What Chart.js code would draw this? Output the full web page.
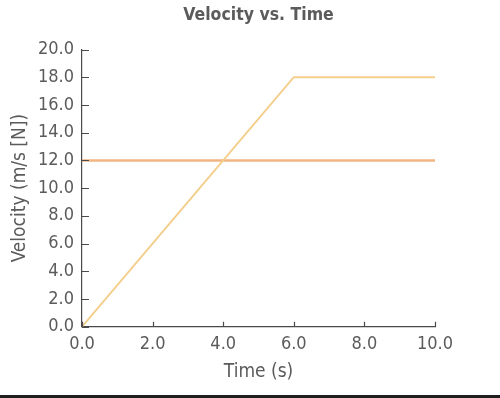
<!DOCTYPE html>
<html>
<head>
<meta charset="utf-8">
<script src="https://cdn.jsdelivr.net/npm/chart.js@4"></script>
<style>
  html, body { margin: 0; padding: 0; background: #fff; }
  #wrap { width: 500px; height: 395px; position: relative; }
  #bar { width: 500px; height: 3px; background: #1e1e1e; }
</style>
</head>
<body>
<div id="wrap"><canvas id="velChart" width="500" height="395"></canvas></div>
<div id="bar"></div>
<script>
// data
const times = [0, 6, 10];
const rampVelocity = [0, 18, 18];
const constTimes = [0, 10];
const constVelocity = [12, 12];
const xTicks = [0, 2, 4, 6, 8, 10];
const yTicks = [0, 2, 4, 6, 8, 10, 12, 14, 16, 18, 20];

const FONT = '"DejaVu Sans Condensed", "Liberation Sans Narrow", sans-serif';
const TEXT = '#5b5b5b';
const AXIS = '#4a4a4a';

// inward tick marks (y ticks point right, x ticks point up)
const innerTicks = {
  id: 'innerTicks',
  afterDraw(chart) {
    const ctx = chart.ctx;
    const x = chart.scales.x, y = chart.scales.y;
    ctx.save();
    ctx.strokeStyle = AXIS;
    ctx.lineWidth = 1.2;
    ctx.beginPath();
    yTicks.forEach(v => {
      let py = Math.round(y.getPixelForValue(v)) + 0.5;
      ctx.moveTo(x.left, py);
      ctx.lineTo(x.left + 7, py);
    });
    xTicks.forEach(v => {
      let px = Math.round(x.getPixelForValue(v)) + 0.5;
      ctx.moveTo(px, y.bottom);
      ctx.lineTo(px, y.bottom - 5);
    });
    ctx.stroke();
    ctx.restore();
  }
};

let ctx = document.getElementById('velChart').getContext('2d');

new Chart(ctx, {
  type: 'line',
  data: {
    datasets: [{
      label: 'ramp',
      data: times.map((t, i) => ({x: t, y: rampVelocity[i]})),
      borderColor: '#f4cf8c',
      borderWidth: 2,
      pointRadius: 0,
      tension: 0
    }, {
      label: 'constant',
      data: constTimes.map((t, i) => ({x: t, y: constVelocity[i]})),
      borderColor: '#f0b582',
      borderWidth: 2.5,
      pointRadius: 0,
      tension: 0
    }]
  },
  options: {
    responsive: false,
    animation: false,
    layout: { padding: { left: 0, right: 65, top: 0, bottom: 0 } },
    plugins: {
      legend: { display: false },
      tooltip: { enabled: false },
      title: {
        display: true,
        fullSize: false,
        text: 'Velocity vs. Time',
        color: TEXT,
        font: { family: FONT, size: 17.5, weight: 'bold' },
        padding: { top: 5, bottom: 23.5 }
      }
    },
    scales: {
      x: {
        type: 'linear',
        min: 0,
        max: 10,
        afterBuildTicks: s => { s.ticks = xTicks.map(v => ({value: v})); },
        afterFit: s => { s.height = 68.3; },
        grid: { display: false, drawTicks: false },
        border: { display: true, color: AXIS, width: 1.2 },
        ticks: {
          color: TEXT,
          padding: 7,
          autoSkip: false,
          maxRotation: 0,
          font: { family: FONT, size: 18 },
          callback: v => v.toFixed(1)
        },
        title: {
          display: true,
          text: 'Time (s)',
          color: TEXT,
          font: { family: FONT, size: 19 },
          padding: { top: 0, bottom: 11.5 }
        }
      },
      y: {
        min: 0,
        max: 20,
        afterBuildTicks: s => { s.ticks = yTicks.map(v => ({value: v})); },
        afterFit: s => { s.width = 82; },
        grid: { display: false, drawTicks: false },
        border: { display: true, color: AXIS, width: 1.2 },
        ticks: {
          color: TEXT,
          padding: 8,
          autoSkip: false,
          font: { family: FONT, size: 18 },
          callback: v => v.toFixed(1)
        },
        title: {
          display: true,
          text: 'Velocity (m/s [N])',
          color: TEXT,
          font: { family: FONT, size: 19 },
          padding: { top: 8.6, bottom: 0 }
        }
      }
    }
  },
  plugins: [innerTicks]
});
</script>
</body>
</html>
